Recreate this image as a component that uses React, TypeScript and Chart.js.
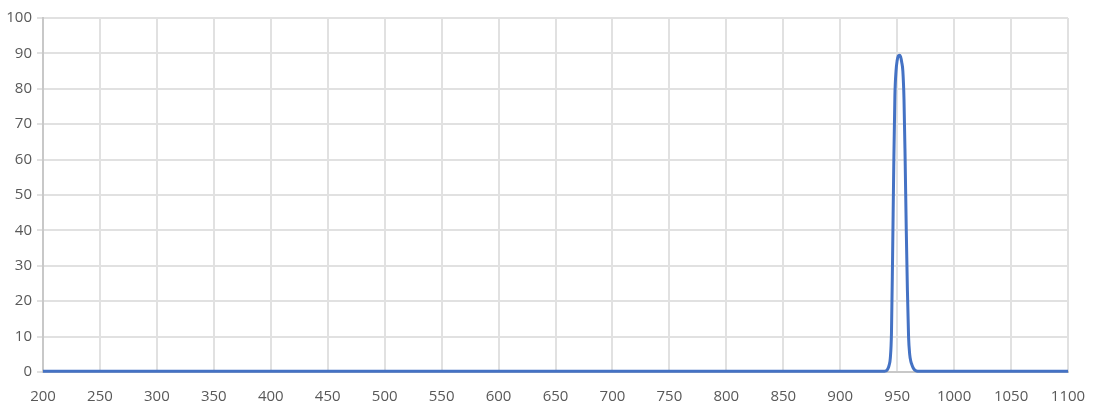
import { useEffect, useRef } from "react";
import { Chart, registerables } from "chart.js";

Chart.register(...registerables);

// Wavelength (nm) and transmission (%)
const wavelengths = [
  200, 600, 900, 935, 939, 940, 941, 942, 943, 944, 945, 946, 947, 948, 949, 950,
  951, 952, 953, 954, 955, 956, 957, 958, 959, 960, 961, 962, 963, 964, 965, 966,
  968, 1000, 1100,
];
const transmission = [
  0.2, 0.2, 0.2, 0.2, 0.2, 0.3, 0.5, 1.0, 2.0, 4.0, 11, 33, 58, 78, 85, 88,
  89.3, 89.5, 89.1, 87.5, 85, 77, 60, 40, 23, 10, 5, 3, 2, 1.2, 0.7, 0.4,
  0.2, 0.2, 0.2,
];

const xTicks = [200, 250, 300, 350, 400, 450, 500, 550, 600, 650, 700, 750, 800, 850, 900, 950, 1000, 1050, 1100];
const yTicks = [0, 10, 20, 30, 40, 50, 60, 70, 80, 90, 100];

export default function App() {
  const canvasRef = useRef<HTMLCanvasElement>(null);

  useEffect(() => {
    document.body.style.margin = "0";
    if (!canvasRef.current) return;

    const chart = new Chart(canvasRef.current, {
      type: "line",
      data: {
        datasets: [
          {
            data: wavelengths.map((w, i) => ({ x: w, y: transmission[i] })),
            borderColor: "#4472C4",
            borderWidth: 3,
            pointRadius: 0,
            cubicInterpolationMode: "monotone",
            fill: false,
            clip: false,
          },
        ],
      },
      options: {
        animation: false,
        responsive: false,
        maintainAspectRatio: false,
        layout: { padding: { top: 18, right: 25, left: 0, bottom: 0 } },
        plugins: { legend: { display: false }, tooltip: { enabled: false } },
        scales: {
          x: {
            type: "linear",
            min: 200,
            max: 1100,
            afterBuildTicks: (scale: any) => {
              scale.ticks = xTicks.map((v) => ({ value: v }));
            },
            afterFit: (scale: any) => {
              scale.height = 34;
              scale.paddingLeft = 0;
              scale.paddingRight = 0;
            },
            grid: { color: "#e1e1e1", lineWidth: 2, tickLength: 0 },
            border: { color: "#c8c8c8", width: 2 },
            ticks: {
              padding: 16,
              maxRotation: 0,
              autoSkip: false,
              color: "#595959",
              font: { family: "'Open Sans', 'Noto Sans', sans-serif", size: 15 },
              callback: (v: any) => String(v),
            },
          },
          y: {
            min: 0,
            max: 100,
            afterBuildTicks: (scale: any) => {
              scale.ticks = yTicks.map((v) => ({ value: v }));
            },
            afterFit: (scale: any) => {
              scale.width = 43;
            },
            grid: { color: "#e1e1e1", lineWidth: 2, tickLength: 6 },
            border: { color: "#c8c8c8", width: 2 },
            ticks: {
              padding: 5,
              color: "#595959",
              font: { family: "'Open Sans', 'Noto Sans', sans-serif", size: 15 },
              callback: (v: any) => String(v),
            },
          },
        },
      },
    });

    return () => chart.destroy();
  }, []);

  return (
    <div style={{ width: 1093, height: 406, background: "#ffffff" }}>
      <canvas ref={canvasRef} width={1093} height={406} style={{ width: 1093, height: 406 }} />
    </div>
  );
}
